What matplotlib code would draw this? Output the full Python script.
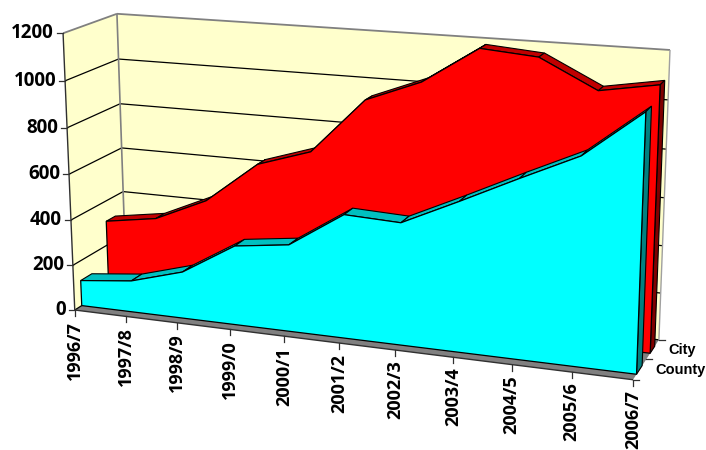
import numpy as np
import matplotlib
matplotlib.use("Agg")
import matplotlib.pyplot as plt
from matplotlib.patches import Polygon

years = ["1996/7", "1997/8", "1998/9", "1999/0", "2000/1", "2001/2",
         "2002/3", "2003/4", "2004/5", "2005/6", "2006/7"]
county = [113, 138, 204, 343, 373, 525, 515, 626, 741, 852, 1043]
city = [309, 345, 448, 630, 705, 944, 1036, 1190, 1171, 1054, 1095]
y_ticks = [0, 200, 400, 600, 800, 1000, 1200]
series_names = ["County", "City"]

W, H = 706, 450
fig = plt.figure(figsize=(W / 100, H / 100), dpi=100)
ax = fig.add_axes([0, 0, 1, 1])
ax.set_xlim(0, W)
ax.set_ylim(H, 0)
ax.axis("off")

# camera: solve a projective map of the chart box (index, value, depth) to the canvas
box = [(0, 0, 0), (0, 1200, 0), (0, 0, 1), (0, 1200, 1),
       (10, 0, 0), (10, 0, 1), (10, 1200, 1), (5, 0, 0)]
view = [(75, 310), (63, 33), (126, 277), (117, 14),
        (633, 379), (659, 340), (670, 50), (339, 344)]
A, b = [], []
for (X, Y, Z), (u, v) in zip(box, view):
    A.append([X, Y, Z, 1, 0, 0, 0, 0, -u * X, -u * Y, -u * Z]); b.append(u)
    A.append([0, 0, 0, 0, X, Y, Z, 1, -v * X, -v * Y, -v * Z]); b.append(v)
P = np.append(np.linalg.lstsq(np.array(A, float), np.array(b, float), rcond=None)[0], 1).reshape(3, 4)


def pr(x, y, z):
    h = P @ np.array([x, y, z, 1.0])
    return (h[0] / h[2], h[1] / h[2])


def poly(pts, fc, ec="none", lw=0.0, zo=1):
    ax.add_patch(Polygon([pr(*p) for p in pts], closed=True, facecolor=fc,
                         edgecolor=ec, linewidth=lw, joinstyle="miter", zorder=zo))


def line(p, q, c="black", lw=0.9, zo=2):
    a, b_ = pr(*p), pr(*q)
    ax.plot([a[0], b_[0]], [a[1], b_[1]], color=c, lw=lw, zorder=zo, solid_capstyle="butt")


YEL = "#FFFFCC"
GREY = "#808080"
n = len(years) - 1
top = y_ticks[-1]

# walls and floor
poly([(0, 0, 1), (n, 0, 1), (n, top, 1), (0, top, 1)], YEL, zo=1)
poly([(0, 0, 0), (0, 0, 1), (0, top, 1), (0, top, 0)], YEL, zo=1)
poly([(0, 0, 0), (n, 0, 0), (n, 0, 1), (0, 0, 1)], GREY, zo=1)

for v in y_ticks:
    c = GREY if v == top else "black"
    lw = 1.3 if v == top else 0.9
    line((0, v, 0), (0, v, 1), c, lw)
    line((0, v, 1), (n, v, 1), c, lw)
line((0, 0, 1), (0, top, 1), GREY, 1.2)
line((n, 0, 1), (n, top, 1), "#A0A0A0", 1.0)
line((0, 0, 0), (0, top, 0), "#303030", 1.0)
line((0, 0, 0), (n, 0, 0), "#303030", 1.0)


def area(vals, z0, z1, front, capc, sidec, zo):
    for i in range(n):
        poly([(i, vals[i], z0), (i + 1, vals[i + 1], z0),
              (i + 1, vals[i + 1], z1), (i, vals[i], z1)], capc, "black", 0.8, zo)
    poly([(n, 0, z0), (n, vals[n], z0), (n, vals[n], z1), (n, 0, z1)], sidec, "black", 0.8, zo)
    pts = [(0, 0, z0)] + [(i, vals[i], z0) for i in range(n + 1)] + [(n, 0, z0)]
    poly(pts, front, "black", 0.9, zo + 0.1)


area(city, 0.65, 0.83, "#FF0000", "#C00000", "#800000", 3)
area(county, 0.13, 0.34, "#00FFFF", "#00C0C0", "#008080", 4)

FONT = "Open Sans"
for v in y_ticks:
    u0, v0 = pr(0, v, 0)
    ax.plot([u0 - 6, u0], [v0, v0], color="#303030", lw=0.9, zorder=2)
    ax.text(u0 - 9, v0, str(v), ha="right", va="center", fontsize=13.5,
            fontweight="bold", family=FONT, color="black", zorder=6)
for i, lab in enumerate(years):
    u0, v0 = pr(i, 0, 0)
    ax.plot([u0, u0], [v0, v0 + 6], color="#303030", lw=0.9, zorder=2)
    ax.text(u0, v0 + 10.5, lab, rotation=90, ha="center", va="top", fontsize=13,
            fontweight="bold", family=FONT, color="black", zorder=6, clip_on=False)
for z in (0, 0.5, 1):
    u0, v0 = pr(n, 0, z)
    ax.plot([u0, u0 + 6], [v0, v0], color="#303030", lw=0.9, zorder=2)
for name, z in zip(series_names, (0.25, 0.75)):
    u0, v0 = pr(n, 0, z)
    ax.text(u0 + (41 if name == "County" else 29), v0 + 1, name, ha="center", va="center",
            fontsize=10.5, fontweight="bold", family="Liberation Sans", color="black", zorder=6)

fig.savefig("out.png", dpi=100, facecolor="white")
